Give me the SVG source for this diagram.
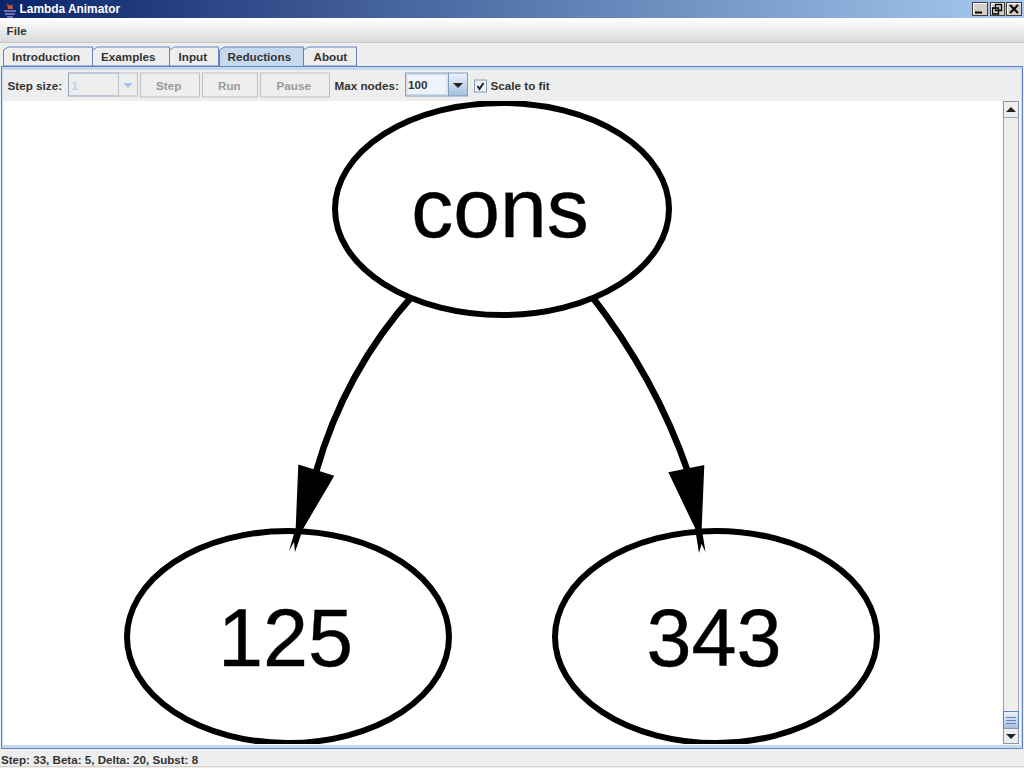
<svg xmlns="http://www.w3.org/2000/svg" width="1024" height="768" viewBox="0 0 1024 768">
<style>
text{font-family:"Liberation Sans",Arial,sans-serif;font-size:11.700px;font-weight:bold;fill:#333333}
.dis{fill:#999999}
.btn{fill:#eeeeee;stroke:#b8c0c8;stroke-width:1}
.tab{fill:#eeeeee;stroke:#6382bf;stroke-width:1}
.wb{fill:#d4d0c8;stroke:#404040;stroke-width:1}
.wh{fill:none;stroke:#ffffff;stroke-width:1}
.node{fill:#ffffff;stroke:#000000;stroke-width:6}
.edge{fill:none;stroke:#000000;stroke-width:6.500}
.big{font-size:81px;font-weight:normal;fill:#000000;text-anchor:middle;stroke:#000000;stroke-width:0.400}
</style>
<defs>
<linearGradient id="title" x1="0" x2="1" y1="0" y2="0"><stop offset="0" stop-color="#0a246a"/><stop offset="1" stop-color="#a6caf0"/></linearGradient>
<linearGradient id="menu" x1="0" x2="0" y1="0" y2="1"><stop offset="0" stop-color="#ffffff"/><stop offset="1" stop-color="#dadada"/></linearGradient>
<linearGradient id="blue" x1="0" x2="0" y1="0" y2="1"><stop offset="0" stop-color="#eef3fa"/><stop offset="1" stop-color="#a3bfdf"/></linearGradient>
<clipPath id="view"><rect x="3" y="101" width="999" height="643"/></clipPath>
</defs>
<rect width="1024" height="768" fill="#eeeeee"/>
<g id="titlebar">
<rect width="1024" height="18" fill="url(#title)"/>
<path d="M7 3l3 3 2-2 1 5h-5z" fill="#d0552a"/>
<path d="M4 11h12M5 14h10M7 17h6" stroke="#8a8ac8" stroke-width="1.500"/>
<text x="19.500" y="13" style="fill:#ffffff;font-size:11.900px">Lambda Animator</text>
<rect class="wb" x="972.500" y="2.500" width="15" height="13"/>
<rect class="wb" x="990.500" y="2.500" width="14" height="13"/>
<rect class="wb" x="1006.500" y="2.500" width="15" height="13"/>
<path class="wh" d="M973.500 14V3.500H987M991.500 14V3.500H1004M1007.500 14V3.500H1021"/>
<path d="M975 12.500h7" stroke="#000" stroke-width="2"/>
<path d="M995.500 4.500h6v6h-6zM992.500 8h6v6h-6z" fill="none" stroke="#000" stroke-width="1.300"/>
<path d="M1010 5l8 8M1018 5l-8 8" stroke="#000" stroke-width="2"/>
</g>
<g id="menubar">
<rect y="18" width="1024" height="24" fill="url(#menu)"/>
<path d="M0 42.500h1024" stroke="#c8c8c8"/>
<text x="6.500" y="35">File</text>
</g>
<g id="tabs">
<path class="tab" d="M3.500 66v-16l5-3h84v19z"/>
<path class="tab" d="M92.500 66v-16l5-3h72v19z"/>
<path class="tab" d="M169.500 66v-16l5-3h44v19z"/>
<path class="tab" d="M303.500 66v-16l5-3h48v19z"/>
<path d="M219.500 67v-17l5-3h79v20z" fill="#c6d9ef" stroke="#6382bf"/>
<text x="12" y="61">Introduction</text>
<text x="101" y="61">Examples</text>
<text x="178.500" y="61">Input</text>
<text x="227.500" y="61">Reductions</text>
<text x="313.500" y="61">About</text>
</g>
<g id="panel">
<rect x="1.500" y="66.500" width="1021" height="682" fill="#c6d9ef" stroke="#6382bf"/>
<rect x="3" y="70" width="1018" height="31" fill="#eeeeee"/>
<rect x="3" y="101" width="999" height="644" fill="#ffffff"/>
<rect x="1002" y="101" width="19" height="644" fill="#f4f4f4"/>
</g>
<g id="toolbar">
<text x="7.500" y="90">Step size:</text>
<rect x="68.500" y="73" width="50" height="23" fill="#eeeeee" stroke="#8da3bf"/>
<rect x="118.500" y="73" width="19" height="23" fill="#eeeeee" stroke="#b8c0c8"/>
<path d="M123 83h10l-5 5z" fill="#a9c4e6"/>
<text class="dis" x="71.500" y="90" style="fill:#b8cfe8">1</text>
<rect class="btn" x="140.500" y="73" width="59" height="24"/>
<text class="dis" x="156" y="90">Step</text>
<rect class="btn" x="202.500" y="73" width="55" height="24"/>
<text class="dis" x="218" y="90">Run</text>
<rect class="btn" x="260.500" y="73" width="69" height="24"/>
<text class="dis" x="276.500" y="90">Pause</text>
<text x="334.500" y="90">Max nodes:</text>
<rect x="405.500" y="73" width="43" height="23" fill="#eeeeee" stroke="#7f9db9"/>
<rect x="407" y="74.500" width="40" height="20" fill="#eef3fa" stroke="#c6d9ef"/>
<rect x="448.500" y="73" width="19" height="23" fill="url(#blue)" stroke="#7f9db9"/>
<path d="M453 83h10l-5 5z" fill="#222222"/>
<text x="408" y="89">100</text>
<rect x="474.500" y="80" width="12" height="12" fill="#eef3fa" stroke="#7f9db9"/>
<path d="M477.500 86l2 3 4-6" fill="none" stroke="#222222" stroke-width="2"/>
<text x="490.500" y="90">Scale to fit</text>
</g>
<g id="scrollbar">
<rect class="btn" x="1003.500" y="101.500" width="15" height="16" style="stroke:#8899aa"/>
<path d="M1006 112h10l-5 -5z" fill="#222222"/>
<rect x="1003.500" y="117.500" width="15" height="594" fill="#eeeeee" stroke="#9aa8b8"/>
<rect x="1003.500" y="711.500" width="15" height="17" fill="url(#blue)" stroke="#6382bf"/>
<path d="M1006 717.500h10M1006 720.500h10M1006 723.500h10" stroke="#6382bf"/>
<rect class="btn" x="1003.500" y="728.500" width="15" height="15" style="stroke:#8899aa"/>
<path d="M1006 734h10l-5 5z" fill="#222222"/>
</g>
<g id="connectors" clip-path="url(#view)">
<path class="edge" d="M414 294C368 345 335 405 316 472"/>
<path d="M298.300 464.500L334.300 475.700L303 529L295 552L294 542L289 551L295.700 528Z"/>
<path class="edge" d="M590 294C630 345 665 405 688 472"/>
<path d="M668.300 472.300L704.300 465L701.700 528L705.500 552L701.500 544L699 553L695 528Z"/>
</g>
<g id="node-cons" clip-path="url(#view)">
<ellipse class="node" cx="502" cy="209" rx="167" ry="106"/>
<text class="big" x="500" y="237" style="font-size:84px">cons</text>
</g>
<g id="node-125" clip-path="url(#view)">
<ellipse class="node" cx="288" cy="637" rx="161" ry="106" style="fill:none"/>
<text class="big" x="285.500" y="666">125</text>
</g>
<g id="node-343" clip-path="url(#view)">
<ellipse class="node" cx="716" cy="637" rx="161" ry="106" style="fill:none"/>
<text class="big" x="714" y="666">343</text>
</g>
<g id="statusbar">
<path d="M0 766.500h1024" stroke="#d8d0c8"/>
<text x="1" y="764" style="font-size:11.600px">Step: 33, Beta: 5, Delta: 20, Subst: 8</text>
</g>
</svg>
